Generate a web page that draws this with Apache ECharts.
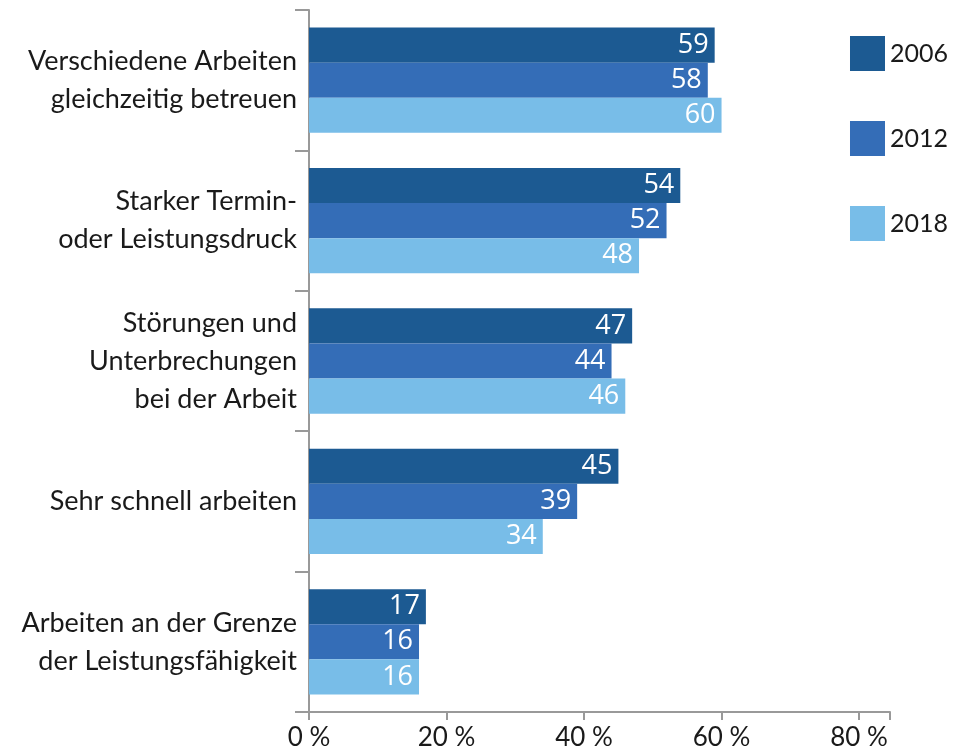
<!DOCTYPE html>
<html>
<head>
<meta charset="utf-8">
<script src="https://cdn.jsdelivr.net/npm/echarts@6/dist/echarts.min.js"></script>
<style>
  html, body { margin: 0; padding: 0; background: #fff; }
  #chart { width: 959px; height: 755px; }
</style>
</head>
<body>
<div id="chart"></div>
<script>
const categories = [
  "Verschiedene Arbeiten\ngleichzeitig betreuen",
  "Starker Termin-\noder Leistungsdruck",
  "Störungen und\nUnterbrechungen\nbei der Arbeit",
  "Sehr schnell arbeiten",
  "Arbeiten an der Grenze\nder Leistungsfähigkeit"
];
const years = ["2006", "2012", "2018"];
const values2006 = [59, 54, 47, 45, 17];
const values2012 = [58, 52, 44, 39, 16];
const values2018 = [60, 48, 46, 34, 16];
const xTicks = [0, 20, 40, 60, 80];

const colors = ["#1c5a92", "#346db7", "#78bde8"];
const fontMain = "Lato, 'Open Sans', sans-serif";

const chart = echarts.init(document.getElementById("chart"));

function barSeries(name, data, color) {
  return {
    name: name,
    type: "bar",
    data: data,
    barGap: "0%",
    barCategoryGap: "25%",
    itemStyle: { color: color },
    label: {
      show: true,
      position: "insideRight",
      distance: 6,
      color: "#fff",
      fontSize: 27,
      fontWeight: 500,
      fontFamily: "'Liberation Sans Narrow', 'Open Sans', sans-serif"
    }
  };
}

chart.setOption({
  animation: false,
  color: colors,
  legend: {
    orient: "vertical",
    right: 6,
    top: 31,
    itemWidth: 35,
    itemHeight: 35,
    itemGap: 50,
    icon: "rect",
    textStyle: { fontSize: 25, color: "#1a1a1a", fontFamily: fontMain },
    data: years
  },
  grid: {
    left: 309,
    right: 69,
    top: 10,
    bottom: 43,
    containLabel: false
  },
  xAxis: {
    type: "value",
    min: 0,
    max: 84.5,
    interval: 20,
    splitLine: { show: false },
    axisLine: { show: true, lineStyle: { color: "#999", width: 2 } },
    axisTick: { show: true, length: 8, lineStyle: { color: "#999", width: 2 } },
    axisLabel: {
      margin: 13,
      fontSize: 26,
      color: "#1a1a1a",
      fontFamily: fontMain,
      formatter: function (v) { return xTicks.indexOf(v) >= 0 ? v + " %" : ""; }
    }
  },
  yAxis: {
    type: "category",
    inverse: true,
    data: categories,
    axisLine: { show: true, lineStyle: { color: "#999", width: 2 } },
    axisTick: { show: true, length: 14, lineStyle: { color: "#999", width: 2 } },
    axisLabel: {
      margin: 12,
      fontSize: 27,
      lineHeight: 38,
      color: "#1a1a1a",
      align: "right",
      fontFamily: fontMain
    }
  },
  series: [
    barSeries(years[0], values2006, colors[0]),
    barSeries(years[1], values2012, colors[1]),
    barSeries(years[2], values2018, colors[2])
  ]
});
</script>
</body>
</html>
